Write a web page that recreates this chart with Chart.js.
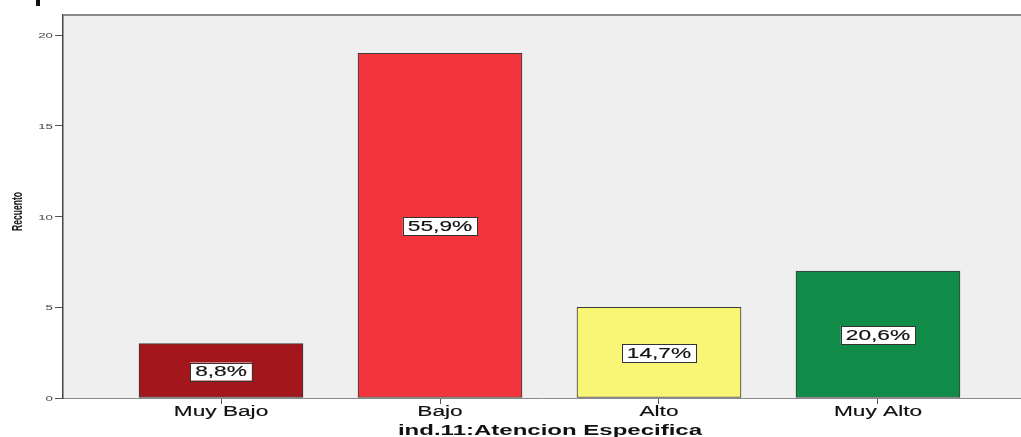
<!DOCTYPE html>
<html>
<head>
<meta charset="utf-8">
<script src="https://cdn.jsdelivr.net/npm/chart.js@4"></script>
<style>
html,body{margin:0;padding:0;background:#fff;}
#wrap{width:1021px;height:437px;position:relative;}
</style>
</head>
<body>
<div id="wrap"><canvas id="c"></canvas></div>
<script>
const categories = ['Muy Bajo', 'Bajo', 'Alto', 'Muy Alto'];
const counts = [3, 19, 5, 7];
const percentLabels = ['8,8%', '55,9%', '14,7%', '20,6%'];
const yTickValues = [0, 5, 10, 15, 20];
const barColors = ['#a3161b', '#f2343c', '#f9f676', '#118b48'];
const xTitle = 'ind.11:Atencion Especifica';
const yTitle = 'Recuento';

const SX = 1.62; // horizontal stretch of the reference text

function stretchedText(ctx, text, x, y, font, sx, align, baseline, color, weight) {
  ctx.save();
  ctx.font = font;
  ctx.fillStyle = color;
  ctx.textAlign = align;
  ctx.textBaseline = baseline;
  ctx.translate(x, y);
  ctx.scale(sx, 1);
  ctx.fillText(text, 0, 0);
  if (weight) {
    ctx.strokeStyle = color;
    ctx.lineWidth = weight;
    ctx.strokeText(text, 0, 0);
  }
  ctx.restore();
}

const decor = {
  id: 'decor',
  beforeDraw(chart) {
    const {ctx, chartArea: a} = chart;
    ctx.save();
    ctx.fillStyle = '#efefef';
    ctx.fillRect(a.left, a.top, a.right - a.left, a.bottom - a.top);
    ctx.restore();
  },
  afterDraw(chart) {
    const {ctx, chartArea: a, scales} = chart;
    const xs = scales.x, ys = scales.y;
    ctx.save();
    ctx.strokeStyle = '#8a8a8a';
    ctx.lineWidth = 2;
    ctx.beginPath();
    ctx.moveTo(a.left, a.top);
    ctx.lineTo(a.right, a.top);
    ctx.stroke();
    ctx.fillStyle = '#111';
    ctx.fillRect(36, 0, 4, 6);
    ctx.restore();

    yTickValues.forEach(v => {
      const py = ys.getPixelForValue(v);
      stretchedText(ctx, String(v), 53, py + 1, '7px "Liberation Sans", Arial, sans-serif', 1.9, 'right', 'middle', '#444', 0);
    });
    categories.forEach((c, i) => {
      const px = xs.getPixelForValue(i);
      stretchedText(ctx, c, px, 415.5, '14px "Liberation Sans", Arial, sans-serif', SX, 'center', 'alphabetic', '#111', 0.15);
    });
    stretchedText(ctx, xTitle, 550, 435, 'bold 15px "Liberation Sans", Arial, sans-serif', 1.6, 'center', 'alphabetic', '#111', 0);
    ctx.save();
    ctx.font = 'bold 9px "Liberation Sans", Arial, sans-serif';
    ctx.fillStyle = '#111';
    ctx.textAlign = 'center';
    ctx.textBaseline = 'middle';
    ctx.translate(18, 211.5);
    ctx.rotate(-Math.PI / 2);
    ctx.scale(0.95, 1.6);
    ctx.fillText(yTitle, 0, 0);
    ctx.restore();
  },
  afterDatasetsDraw(chart) {
    const {ctx} = chart;
    const meta = chart.getDatasetMeta(0);
    meta.data.forEach((bar, i) => {
      const cx = bar.x;
      const cy = (bar.y + bar.base) / 2 + 1;
      const font = '14px "Liberation Sans", Arial, sans-serif';
      ctx.save();
      ctx.font = font;
      const w = ctx.measureText(percentLabels[i]).width * SX + 10;
      const h = 18;
      ctx.fillStyle = '#ffffff';
      ctx.fillRect(cx - w / 2, cy - h / 2, w, h);
      ctx.strokeStyle = '#333';
      ctx.lineWidth = 1;
      ctx.strokeRect(Math.round(cx - w / 2) + 0.5, Math.round(cy - h / 2) + 0.5, Math.round(w), h);
      ctx.restore();
      stretchedText(ctx, percentLabels[i], cx, cy + 1, font, SX, 'center', 'middle', '#111', 0.15);
    });
  }
};

new Chart(document.getElementById('c'), {
  type: 'bar',
  data: {
    datasets: [{
      data: counts.map((v, i) => ({x: i, y: v})),
      backgroundColor: barColors,
      borderColor: '#3a3a3a',
      borderWidth: 1,
      borderSkipped: false,
      barThickness: 164
    }]
  },
  options: {
    responsive: true,
    maintainAspectRatio: false,
    animation: false,
    layout: {padding: {top: 15, right: 0, left: 0, bottom: 0}},
    plugins: {legend: {display: false}, tooltip: {enabled: false}},
    scales: {
      x: {
        type: 'linear',
        offset: false,
        min: -0.7215,
        max: 3.653,
        afterBuildTicks(s) { s.ticks = categories.map((c, i) => ({value: i})); },
        afterFit(s) { s.height = 39; },
        ticks: {display: false},
        grid: {offset: false, drawOnChartArea: false, drawTicks: true, tickLength: 6, color: '#555', lineWidth: 1},
        border: {display: true, color: '#8a8a8a', width: 1}
      },
      y: {
        type: 'linear',
        min: 0,
        max: 21.12,
        afterBuildTicks(s) { s.ticks = yTickValues.map(v => ({value: v})); },
        afterFit(s) { s.width = 63; },
        ticks: {display: false},
        grid: {drawOnChartArea: false, drawTicks: true, tickLength: 8, color: '#555', lineWidth: 1},
        border: {display: true, color: '#444', width: 1.5}
      }
    }
  },
  plugins: [decor]
});
</script>
</body>
</html>
